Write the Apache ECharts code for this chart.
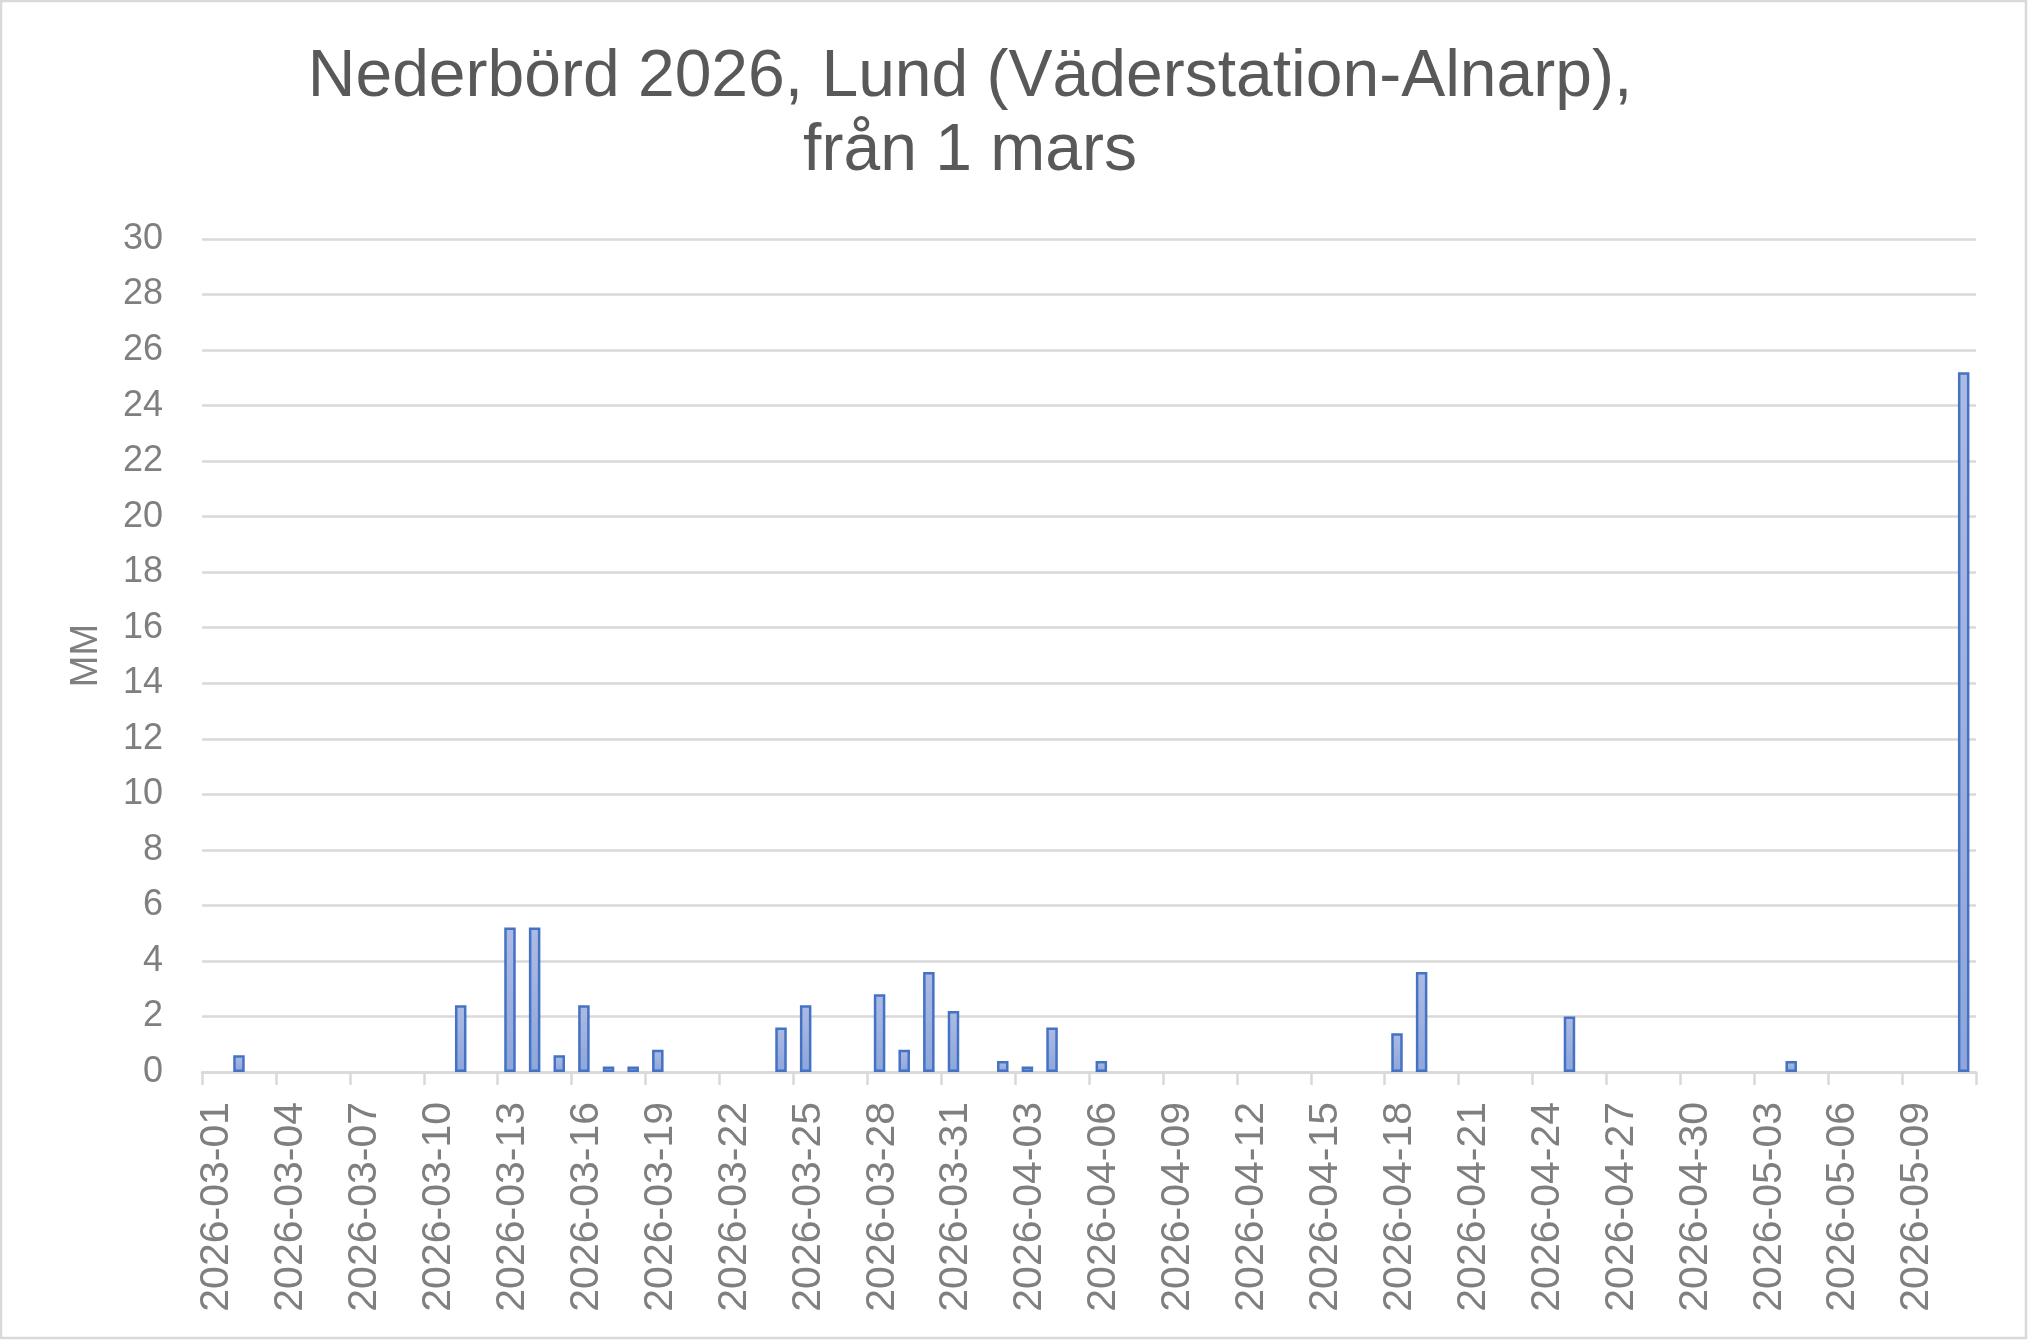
<!DOCTYPE html>
<html>
<head>
<meta charset="utf-8">
<script src="https://cdn.jsdelivr.net/npm/echarts@6/dist/echarts.min.js"></script>
<style>
  html, body { margin: 0; padding: 0; background: #ffffff; }
  #chart { width: 2028px; height: 1340px; }
</style>
</head>
<body>
<div id="chart"></div>
<script>
const titleText = 'Nederbörd 2026, Lund (Väderstation-Alnarp),\nfrån 1 mars';
const yAxisName = 'MM';

const categories = [
  '2026-03-01','2026-03-02','2026-03-03','2026-03-04','2026-03-05','2026-03-06','2026-03-07','2026-03-08',
  '2026-03-09','2026-03-10','2026-03-11','2026-03-12','2026-03-13','2026-03-14','2026-03-15','2026-03-16',
  '2026-03-17','2026-03-18','2026-03-19','2026-03-20','2026-03-21','2026-03-22','2026-03-23','2026-03-24',
  '2026-03-25','2026-03-26','2026-03-27','2026-03-28','2026-03-29','2026-03-30','2026-03-31',
  '2026-04-01','2026-04-02','2026-04-03','2026-04-04','2026-04-05','2026-04-06','2026-04-07','2026-04-08',
  '2026-04-09','2026-04-10','2026-04-11','2026-04-12','2026-04-13','2026-04-14','2026-04-15','2026-04-16',
  '2026-04-17','2026-04-18','2026-04-19','2026-04-20','2026-04-21','2026-04-22','2026-04-23','2026-04-24',
  '2026-04-25','2026-04-26','2026-04-27','2026-04-28','2026-04-29','2026-04-30',
  '2026-05-01','2026-05-02','2026-05-03','2026-05-04','2026-05-05','2026-05-06','2026-05-07','2026-05-08',
  '2026-05-09','2026-05-10','2026-05-11'
];

// precipitation (mm) per day, same order as categories
const precipitation = [
  0, 0.6, 0, 0, 0, 0, 0, 0,
  0, 0, 2.4, 0, 5.2, 5.2, 0.6, 2.4,
  0.2, 0.2, 0.8, 0, 0, 0, 0, 1.6,
  2.4, 0, 0, 2.8, 0.8, 3.6, 2.2,
  0, 0.4, 0.2, 1.6, 0, 0.4, 0, 0,
  0, 0, 0, 0, 0, 0, 0, 0,
  0, 1.4, 3.6, 0, 0, 0, 0, 0,
  2.0, 0, 0, 0, 0, 0,
  0, 0, 0, 0.4, 0, 0, 0, 0,
  0, 0, 25.2
];

// labels sit on the day boundaries (one more boundary than days; last one unlabeled)
const tickLabels = categories.concat(['']);

const yMin = 0, yMax = 30, yStep = 2;

const font = "'Liberation Sans', Arial, sans-serif";
const chart = echarts.init(document.getElementById('chart'), null, { renderer: 'canvas' });

chart.setOption({
  animation: false,
  backgroundColor: '#ffffff',
  graphic: [{
    type: 'rect',
    shape: { x: 1, y: 1, width: 2025, height: 1337 },
    style: { fill: 'none', stroke: '#d9d9d9', lineWidth: 2.5 },
    silent: true
  }],
  title: {
    text: titleText,
    left: 965,
    textAlign: 'center',
    top: 36,
    textStyle: {
      fontFamily: font,
      fontSize: 66,
      lineHeight: 74,
      fontWeight: 'normal',
      color: '#595959'
    }
  },
  grid: [
    { left: 202, right: 52, top: 239, bottom: 268, containLabel: false },
    // label grid: same plot box, nudged right so rotated labels sit just right of their ticks
    { left: 217, right: 37, top: 239, bottom: 268, containLabel: false }
  ],
  xAxis: [
    {
      type: 'category',
      gridIndex: 0,
      data: categories,
      boundaryGap: true,
      axisLine: { show: true, lineStyle: { color: '#d9d9d9', width: 2.5 } },
      axisTick: { show: false },
      axisLabel: { show: false },
      splitLine: { show: false }
    },
    {
      type: 'category',
      gridIndex: 0,
      data: tickLabels,
      boundaryGap: false,
      position: 'bottom',
      axisLine: { show: false },
      axisTick: { show: true, interval: 2, length: 13, lineStyle: { color: '#d9d9d9', width: 2.5 } },
      axisLabel: { show: false },
      splitLine: { show: false }
    },
    {
      type: 'category',
      gridIndex: 1,
      data: tickLabels,
      boundaryGap: false,
      position: 'bottom',
      axisLine: { show: false },
      axisTick: { show: false },
      axisLabel: {
        interval: 2,
        rotate: 90,
        margin: 30,
        fontFamily: font,
        fontSize: 41,
        color: '#7f7f7f'
      },
      splitLine: { show: false }
    }
  ],
  yAxis: [
    {
      type: 'value',
      gridIndex: 0,
      min: yMin,
      max: yMax,
      interval: yStep,
      name: yAxisName,
      nameLocation: 'middle',
      nameRotate: 90,
      nameGap: 96,
      nameTextStyle: { fontFamily: font, fontSize: 38, color: '#7f7f7f' },
      axisLine: { show: false },
      axisTick: { show: false },
      axisLabel: { margin: 39, fontFamily: font, fontSize: 36, color: '#7f7f7f' },
      splitLine: { show: true, lineStyle: { color: '#d9d9d9', width: 2.5 } }
    },
    {
      type: 'value',
      gridIndex: 1,
      min: yMin,
      max: yMax,
      interval: yStep,
      show: false
    }
  ],
  series: [{
    type: 'bar',
    xAxisIndex: 0,
    yAxisIndex: 0,
    data: precipitation.map(v => (v === 0 ? '-' : v)),
    barWidth: 11.5,
    itemStyle: {
      color: new echarts.graphic.LinearGradient(0, 0, 0, 1, [
        { offset: 0, color: '#adbbe3' },
        { offset: 1, color: '#8ea6da' }
      ]),
      borderColor: '#4472c4',
      borderWidth: 2.5
    }
  }]
});
</script>
</body>
</html>
